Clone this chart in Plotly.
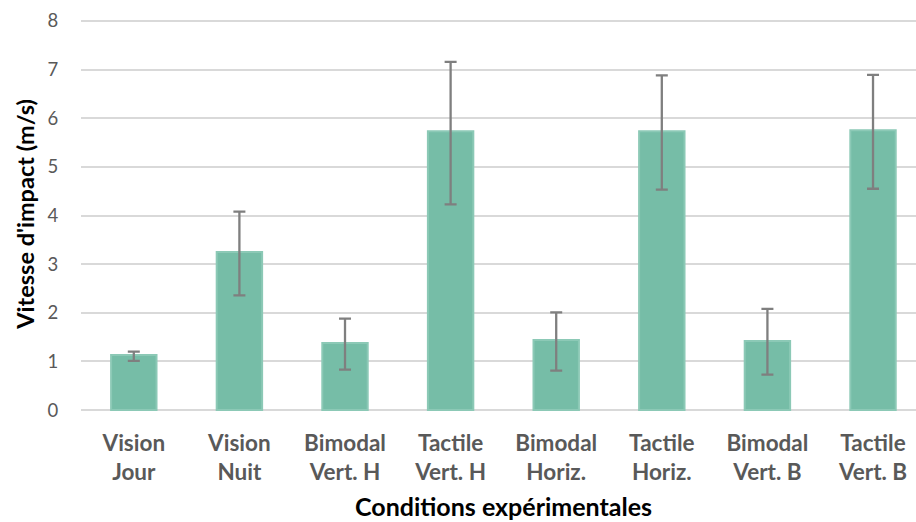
import plotly.graph_objects as go

categories = ["Vision<br>Jour", "Vision<br>Nuit", "Bimodal<br>Vert. H", "Tactile<br>Vert. H",
              "Bimodal<br>Horiz.", "Tactile<br>Horiz.", "Bimodal<br>Vert. B", "Tactile<br>Vert. B"]
vitesse = [1.13, 3.25, 1.38, 5.73, 1.44, 5.73, 1.42, 5.75]
err_plus = [0.07, 0.83, 0.50, 1.43, 0.57, 1.15, 0.66, 1.14]
err_minus = [0.12, 0.89, 0.55, 1.50, 0.63, 1.20, 0.69, 1.20]
y_ticks = [0, 1, 2, 3, 4, 5, 6, 7, 8]

W, H = 916, 522
L, R, T, B = 80.7, 0, 17.8, 108.6
y_top = 8.06

fig = go.Figure()
fig.add_trace(go.Bar(
    x=list(range(len(categories))),
    y=vitesse,
    width=0.43,
    marker=dict(color="#76BDA7", line=dict(color="#8CC9B6", width=2)),
    error_y=dict(type="data", symmetric=False, array=err_plus, arrayminus=err_minus,
                 color="#7F7F7F", thickness=2.3, width=6),
    hoverinfo="skip",
))

fig.update_layout(
    width=W, height=H,
    margin=dict(l=L, r=R, t=T, b=B, pad=0),
    paper_bgcolor="white", plot_bgcolor="white",
    showlegend=False,
    font=dict(family="Lato, sans-serif", color="#595959"),
    xaxis=dict(
        range=[-0.5, 7.407],
        tickmode="array", tickvals=list(range(len(categories))), ticktext=categories,
        tickfont=dict(family="Lato, sans-serif", size=22.5, color="#595959", weight="bold"),
        showgrid=False, showline=False, zeroline=False,
        ticks="outside", ticklen=10, tickcolor="rgba(0,0,0,0)",
    ),
    yaxis=dict(
        range=[-0.06, y_top],
        tickmode="array", tickvals=y_ticks,
        tickfont=dict(family="Lato, sans-serif", size=18.5, color="#595959"),
        showgrid=True, gridcolor="#D9D9D9", gridwidth=1.5,
        zeroline=True, zerolinecolor="#D9D9D9", zerolinewidth=1.5,
        showline=False,
        ticks="outside", ticklen=18, tickcolor="rgba(0,0,0,0)",
    ),
    annotations=[
        dict(text="<b>Conditions expérimentales</b>", xref="paper", yref="paper",
             x=0.5056, y=-0.2358, xanchor="center", yanchor="middle", showarrow=False,
             font=dict(family="Lato, sans-serif", size=25, color="#000000")),
        dict(text="<b>Vitesse d'impact (m/s)</b>", xref="paper", yref="paper",
             x=-0.0667, y=0.5027, xanchor="center", yanchor="middle", showarrow=False,
             textangle=-90,
             font=dict(family="Lato, sans-serif", size=23.5, color="#000000")),
    ],
)

fig.write_html("out.html", config={"displayModeBar": False},
               post_script="document.body.style.margin='0';document.body.style.padding='0';")
